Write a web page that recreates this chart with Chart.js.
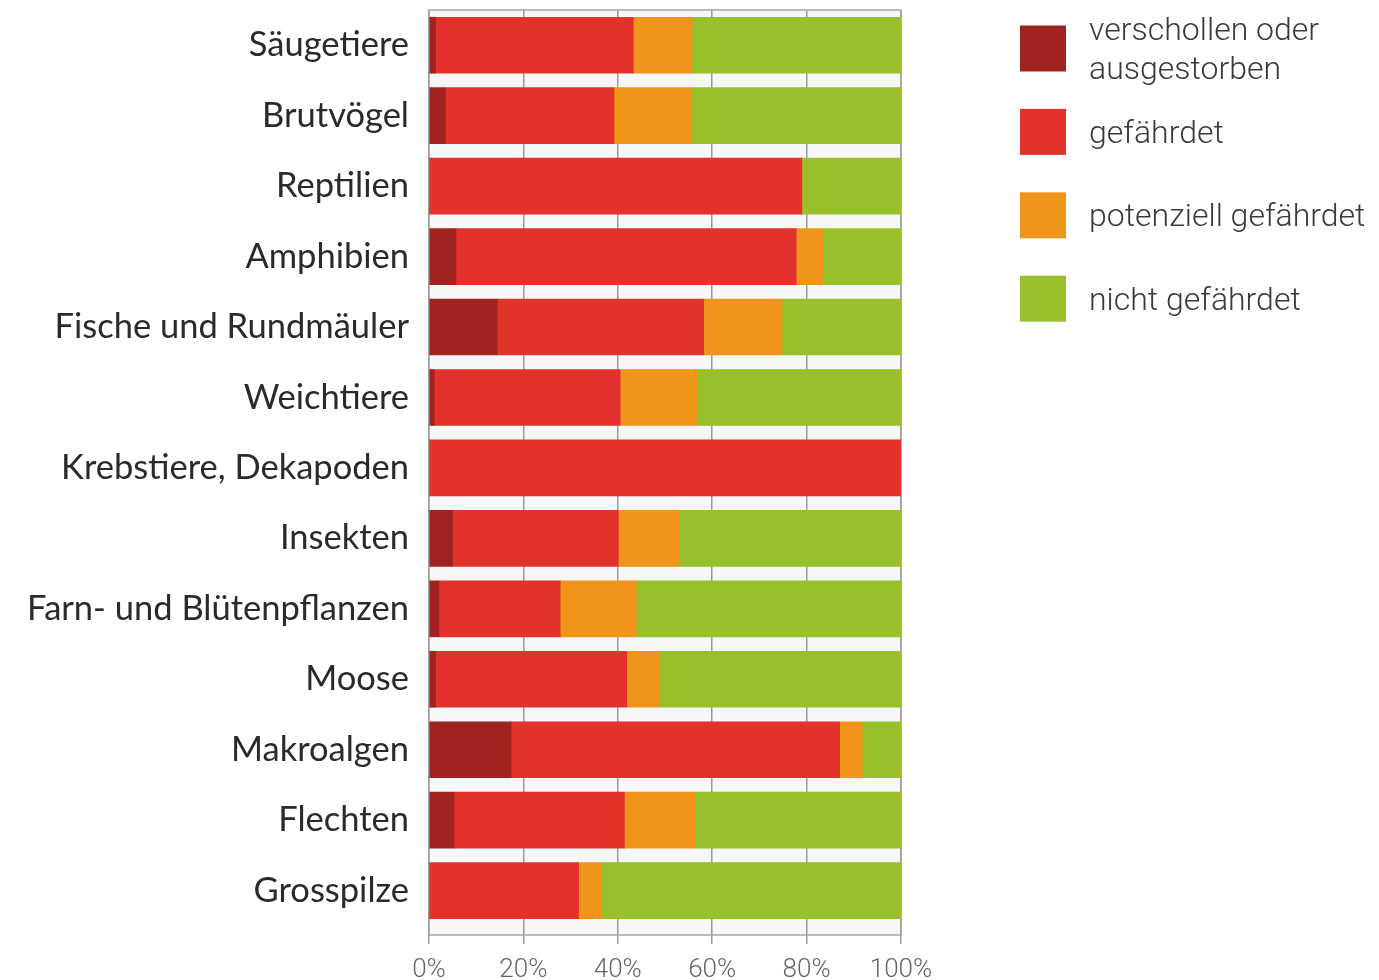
<!DOCTYPE html>
<html>
<head>
<meta charset="utf-8">
<script src="https://cdn.jsdelivr.net/npm/chart.js@4.4.1/dist/chart.umd.min.js"></script>
<style>
  html, body { margin: 0; padding: 0; background: #ffffff; }
  #wrap { width: 1379px; height: 980px; position: relative; }
</style>
</head>
<body>
<div id="wrap"><canvas id="c" width="1379" height="980"></canvas></div>
<script>
// ---- Data (percent shares per group) ----
const categories = [
  'Säugetiere', 'Brutvögel', 'Reptilien', 'Amphibien', 'Fische und Rundmäuler',
  'Weichtiere', 'Krebstiere, Dekapoden', 'Insekten', 'Farn- und Blütenpflanzen',
  'Moose', 'Makroalgen', 'Flechten', 'Grosspilze'
];
const verschollen = [1.4, 3.5, 0, 5.7, 14.5, 1.1, 0, 5.0, 2.1, 1.4, 17.4, 5.3, 0];
const gefaehrdet  = [41.9, 35.7, 79.0, 72.1, 43.7, 39.4, 100, 35.1, 25.7, 40.5, 69.6, 36.1, 31.7];
const potenziell  = [12.4, 16.3, 0, 5.7, 16.6, 16.3, 0, 13.0, 16.1, 6.8, 4.8, 15.0, 4.9];
const nicht       = [44.3, 44.5, 21.0, 16.5, 25.2, 43.2, 0, 46.9, 56.1, 51.3, 8.2, 43.6, 63.4];
const xTickValues = [0, 20, 40, 60, 80, 100];
const seriesNames = ['verschollen oder ausgestorben', 'gefährdet', 'potenziell gefährdet', 'nicht gefährdet'];
const legendLines = [['verschollen oder', 'ausgestorben'], ['gefährdet'], ['potenziell gefährdet'], ['nicht gefährdet']];
const seriesColors = ['#a02320', '#e3322b', '#f0951a', '#98c02b'];

const seriesValues = [verschollen, gefaehrdet, potenziell, nicht];
const toPoints = arr => arr.map((v, i) => ({ x: v, y: i }));

const framePlugin = {
  id: 'frame',
  beforeDraw(chart) {
    const { ctx, chartArea: a } = chart;
    ctx.save();
    ctx.fillStyle = '#f6f7f9';
    ctx.fillRect(a.left, a.top, a.right - a.left, a.bottom - a.top);
    ctx.restore();
  },
  beforeDatasetsDraw(chart) {
    const { ctx, chartArea: a } = chart;
    ctx.save();
    ctx.strokeStyle = '#a5a5a5';
    ctx.lineWidth = 1.5;
    ctx.strokeRect(a.left, a.top, a.right - a.left, a.bottom - a.top);
    ctx.restore();
  }
};

const legendPlugin = {
  id: 'sideLegend',
  afterDraw(chart) {
    const { ctx } = chart;
    const x0 = 1020, cy0 = 48.5, pitch = 83.4, box = 46, lineH = 39;
    ctx.save();
    ctx.font = '300 32px Roboto, "Open Sans", sans-serif';
    ctx.textBaseline = 'middle';
    ctx.textAlign = 'left';
    chart.data.datasets.forEach((ds, i) => {
      const cy = cy0 + i * pitch;
      ctx.fillStyle = ds.backgroundColor;
      ctx.fillRect(x0, cy - box / 2, box, box);
      const lines = legendLines[i];
      ctx.fillStyle = '#3a3a3a';
      lines.forEach((t, k) => {
        const ty = cy + 3 + (k - (lines.length - 1) / 2) * lineH;
        ctx.fillText(t, 1089, ty);
      });
    });
    ctx.restore();
  }
};

new Chart(document.getElementById('c'), {
  type: 'bar',
  data: {
    datasets: seriesValues.map((vals, i) => ({
      label: seriesNames[i],
      data: toPoints(vals),
      backgroundColor: seriesColors[i],
      borderWidth: 0,
      barThickness: 56
    }))
  },
  options: {
    indexAxis: 'y',
    responsive: false,
    animation: false,
    events: [],
    layout: { padding: { top: 10, right: 478, left: 0, bottom: 0 } },
    plugins: { legend: { display: false }, tooltip: { enabled: false } },
    scales: {
      x: {
        type: 'linear',
        stacked: true,
        min: 0, max: 100,
        bounds: 'data',
        offset: false,
        afterBuildTicks: s => { s.ticks = xTickValues.map(v => ({ value: v })); },
        afterFit: s => { s.height = 45; s.paddingLeft = 0; s.paddingRight = 0; },
        grid: { color: '#9a9a9a', lineWidth: 1.5, tickLength: 9, drawTicks: true, offset: false },
        border: { display: false },
        ticks: {
          callback: v => v + '%',
          font: { family: 'Roboto', size: 26, weight: '300' },
          color: '#666666',
          padding: 11,
          maxRotation: 0
        }
      },
      y: {
        type: 'linear',
        stacked: true,
        reverse: true,
        bounds: 'data',
        offset: false,
        min: -0.5, max: 12.63,
        afterBuildTicks: s => { s.ticks = categories.map((_, i) => ({ value: i })); },
        afterFit: s => { s.width = 429; s.paddingTop = 0; s.paddingBottom = 0; },
        grid: { display: false, drawTicks: false, offset: false },
        border: { display: false },
        ticks: {
          callback: v => categories[v],
          autoSkip: false,
          font: { family: 'Lato', size: 34.5 },
          color: '#2a2a2a',
          padding: 20
        }
      }
    }
  },
  plugins: [framePlugin, legendPlugin]
});
</script>
</body>
</html>
